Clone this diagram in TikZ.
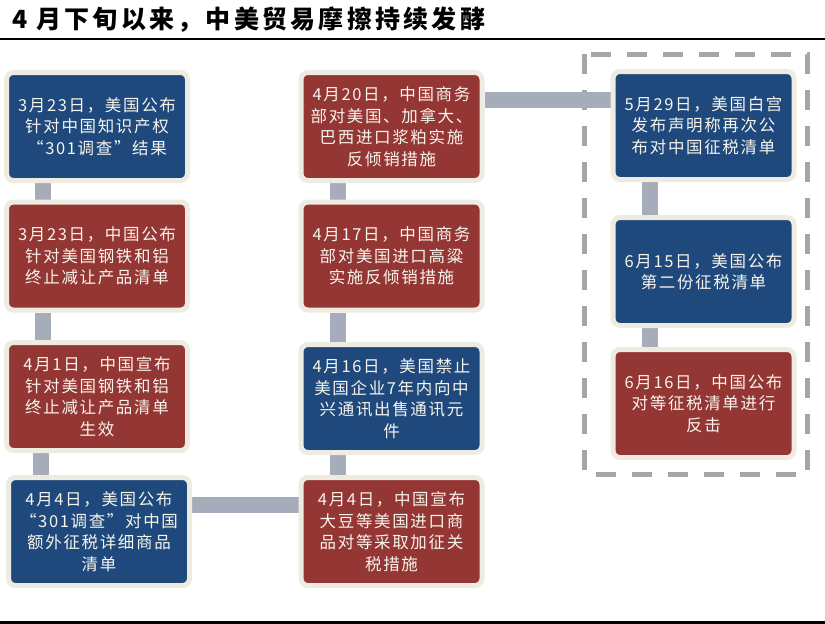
\documentclass[tikz,border=0pt]{standalone}
\usepackage{fontspec}
\setmainfont{Noto Sans CJK SC}
\newfontfamily\cjk[LetterSpace=10]{Noto Sans CJK SC}
\newfontfamily\cjktitle[LetterSpace=13]{Noto Sans CJK SC}
\usetikzlibrary{backgrounds}
\definecolor{boxblue}{RGB}{31,73,125}
\definecolor{boxred}{RGB}{148,54,52}
\definecolor{cream}{RGB}{238,236,225}
\definecolor{conngray}{RGB}{166,172,186}
\definecolor{dashgray}{RGB}{166,166,166}
\definecolor{textc}{RGB}{246,244,236}
\tikzset{
  evbox/.style={minimum width=181pt, minimum height=108pt, inner sep=0pt,
    rounded corners=7pt, draw=cream, line width=5pt, align=center, text=textc,
    font=\cjk\fontsize{16.5}{21.5}\selectfont},
  bluebox/.style={evbox, fill=boxblue},
  redbox/.style={evbox, fill=boxred},
  conn/.style={draw=conngray, line width=16pt},
  dashbox/.style={draw=dashgray, line width=5pt, dash pattern=on 20pt off 16pt}
}
\begin{document}
\begin{tikzpicture}[x=1pt,y=-1pt]
\useasboundingbox (0,0) rectangle (825,624);
\node[anchor=west, inner sep=0pt, font=\cjktitle\bfseries\fontsize{25}{30}\selectfont] (title) at (12,20) {4 月下旬以来，中美贸易摩擦持续发酵};
\draw[line width=2pt] (0,38.5) -- (825,38.5);
\draw[line width=3pt] (0,622) -- (825,622);

% column 1
\node[bluebox] (b1) at (97,126.5) {3月23日，美国公布\\针对中国知识产权\\“301调查”结果};
\node[redbox]  (b2) at (97,256) {3月23日，中国公布\\针对美国钢铁和铝\\终止减让产品清单};
\node[redbox]  (b3) at (97,396.5) {4月1日，中国宣布\\针对美国钢铁和铝\\终止减让产品清单\\生效};
\node[bluebox] (b4) at (99,531.5) {4月4日，美国公布\\“301调查”对中国\\额外征税详细商品\\清单};
% column 2
\node[redbox]  (b5) at (391.5,126.5) {4月20日，中国商务\\部对美国、加拿大、\\巴西进口浆粕实施\\反倾销措施};
\node[redbox]  (b6) at (391.5,256) {4月17日，中国商务\\部对美国进口高粱\\实施反倾销措施};
\node[bluebox] (b7) at (391.5,398.5) {4月16日，美国禁止\\美国企业7年内向中\\兴通讯出售通讯元\\件};
\node[redbox]  (b8) at (391.5,531.5) {4月4日，中国宣布\\大豆等美国进口商\\品对等采取加征关\\税措施};
% column 3
\node[bluebox] (b9)  at (703.5,125.5) {5月29日，美国白宫\\发布声明称再次公\\布对中国征税清单};
\node[bluebox] (b10) at (703.5,271.5) {6月15日，美国公布\\第二份征税清单};
\node[redbox]  (b11) at (703.5,403.5) {6月16日，中国公布\\对等征税清单进行\\反击};

\begin{pgfonlayer}{background}
\draw[dashbox] (584.5,54) rectangle (807,474.5);
\draw[conn] ([xshift=-54pt]b1.south) -- ([xshift=-54pt]b2.north);
\draw[conn] ([xshift=-54pt]b2.south) -- ([xshift=-54pt]b3.north);
\draw[conn] ([xshift=-56pt]b3.south) -- ([xshift=-56pt]b3.south |- b4.north);
\draw[conn] ([yshift=27pt]b4.east) -- ([yshift=27pt]b4.east -| b8.west);
\draw[conn] ([xshift=-53.5pt]b8.north) -- ([xshift=-53.5pt]b7.south);
\draw[conn] ([xshift=-53.5pt]b7.north) -- ([xshift=-53.5pt]b6.south);
\draw[conn] ([xshift=-53.5pt]b6.north) -- ([xshift=-53.5pt]b5.south);
\draw[conn] ([yshift=27pt]b5.east) -- ([yshift=27pt]b5.east -| b9.west);
\draw[conn] ([xshift=-53.5pt]b9.south) -- ([xshift=-53.5pt]b10.north);
\draw[conn] ([xshift=-53.5pt]b10.south) -- ([xshift=-53.5pt]b11.north);
\end{pgfonlayer}
\end{tikzpicture}
\end{document}
